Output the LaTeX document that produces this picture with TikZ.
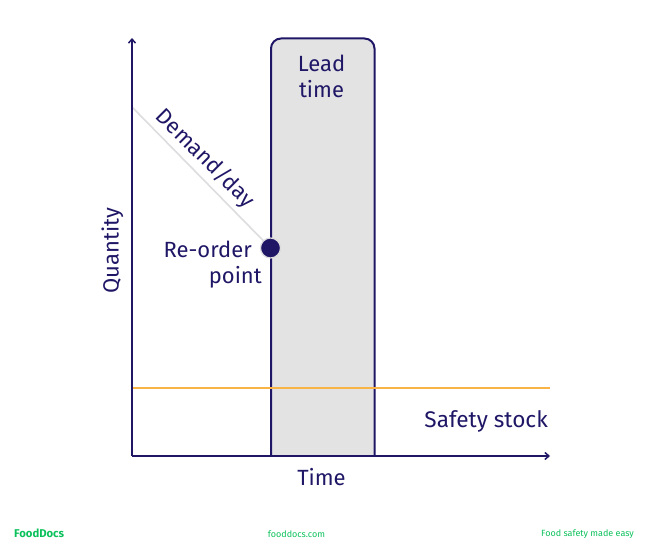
\documentclass[tikz,border=0pt]{standalone}
\usepackage{fontspec}
\setmainfont{Fira Sans}
\usetikzlibrary{arrows.meta}
\definecolor{navy}{HTML}{1F1766}
\definecolor{boxgrey}{HTML}{E3E3E4}
\definecolor{demandgrey}{HTML}{DDDDE0}
\definecolor{stockorange}{RGB}{249,180,69}
\definecolor{brand}{HTML}{0BC15B}
\tikzset{
  lbl/.style={text=navy,font=\fontsize{22}{26}\selectfont,inner sep=0pt,align=center},
  foot/.style={text=brand,font=\fontsize{9}{11}\selectfont,inner sep=0pt},
  axis/.style={draw=navy,line width=2pt,-{Straight Barb[length=4pt,width=7pt,line width=1.5pt]}},
  boxedge/.style={draw=navy,line width=2pt},
  stockline/.style={draw=stockorange,line width=2pt},
}
\begin{document}
\begin{tikzpicture}[x=1pt,y=-1pt]
\useasboundingbox (0,0) rectangle (652,551);
\coordinate (origin) at (132,456);
\coordinate (ytop) at (132,38);
\coordinate (xend) at (550,456);
\coordinate (demandstart) at (132,107);
\coordinate (stockleft) at (132,387.6);
\coordinate (stockright) at (550,387.6);
\path[fill=boxgrey] (271,456) -- (271,48.5) arc[start angle=180,end angle=90,radius=10pt] -- (364.5,38.5) arc[start angle=90,end angle=0,radius=10pt] -- (374.5,456) -- cycle;
\draw[boxedge] (271,456) -- (271,48.5) arc[start angle=180,end angle=90,radius=10pt] -- (364.5,38.5) arc[start angle=90,end angle=0,radius=10pt] -- (374.5,456);
\draw[draw=demandgrey,line width=1.6pt] (demandstart) -- (270.5,248);
\draw[stockline] (stockleft) -- (stockright);
\draw[axis] (origin) -- (ytop);
\draw[axis] (origin) -- (xend);
\node[circle,fill=navy,draw=demandgrey,line width=1.2pt,minimum size=20pt,inner sep=0pt] (reorder) at (270.5,248) {};
\node[lbl] (lead) at (321.5,76.5) {Lead\\time};
\node[lbl,rotate=-45] (demand) at (205,158.5) {Demand/day};
\node[lbl,align=right,anchor=east] (rolabel) at (262,265) {\mbox{Re-order\kern10pt}\\point};
\node[lbl,rotate=90] (qty) at (112.5,250.5) {Quantity};
\node[lbl,anchor=east,font=\fontsize{22.6}{26}\selectfont] (safetylabel) at (548,421) {Safety stock};
\node[lbl] (timelabel) at (321.5,477) {Time};
\node[foot,font=\fontsize{11.3}{13}\selectfont\bfseries,anchor=west] (logo) at (14,533.5) {FoodDocs};
\node[foot] (site) at (296.5,534) {fooddocs.com};
\node[foot,anchor=east] (tag) at (634,534) {Food safety made easy};
\end{tikzpicture}
\end{document}
